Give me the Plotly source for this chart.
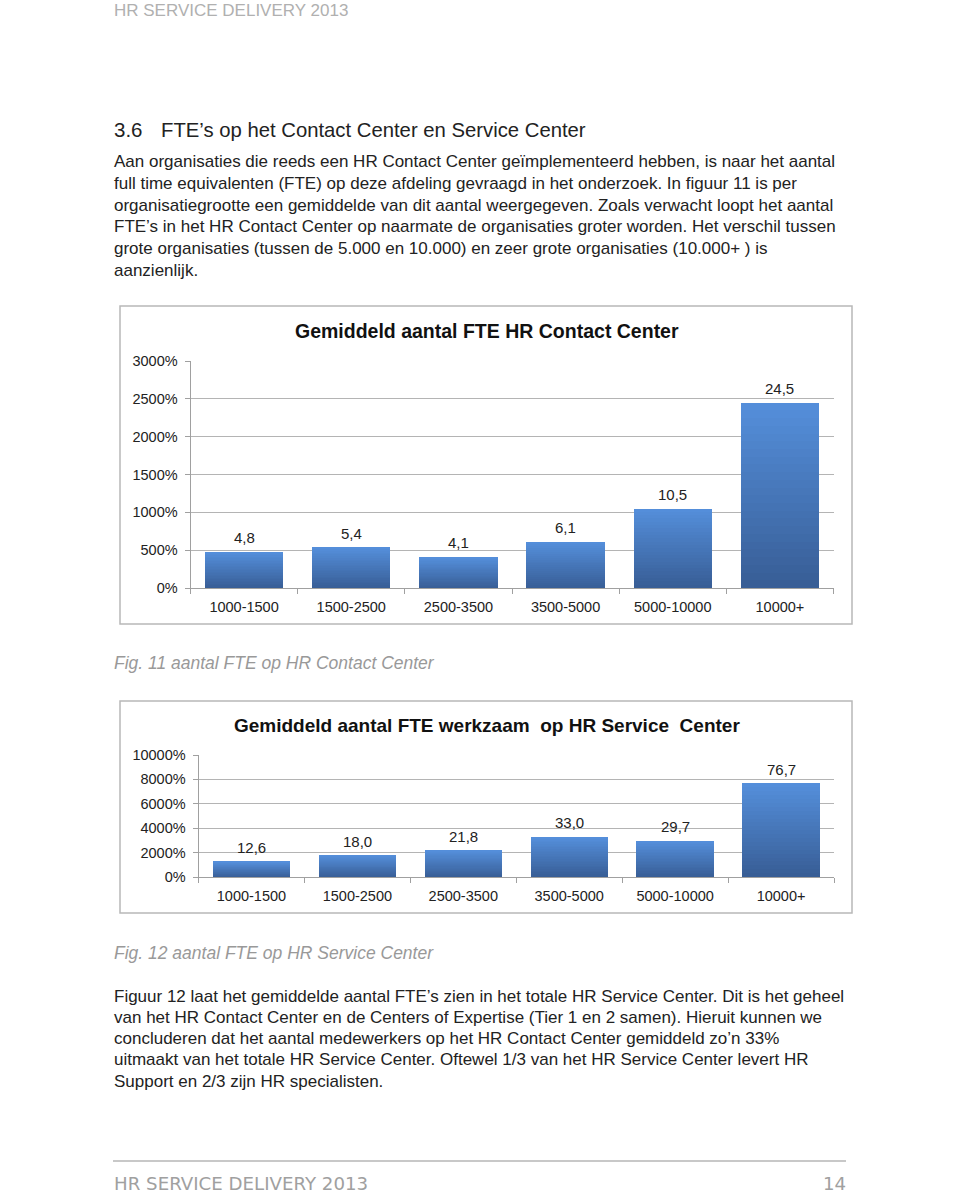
import plotly.graph_objects as go

W, H = 960, 1195

# ---------------- data ----------------
categories = ["1000-1500", "1500-2500", "2500-3500", "3500-5000", "5000-10000", "10000+"]
contact_center_fte = [4.8, 5.4, 4.1, 6.1, 10.5, 24.5]
service_center_fte = [12.6, 18.0, 21.8, 33.0, 29.7, 76.7]

chart1_title = "Gemiddeld aantal FTE HR Contact Center"
chart2_title = "Gemiddeld aantal FTE werkzaam  op HR Service  Center"

header_text = "HR SERVICE DELIVERY 2013"
section_no = "3.6"
section_title = "FTE’s op het Contact Center en Service Center"
para1 = [
    "Aan organisaties die reeds een HR Contact Center geïmplementeerd hebben, is naar het aantal",
    "full time equivalenten (FTE) op deze afdeling gevraagd in het onderzoek. In figuur 11 is per",
    "organisatiegrootte een gemiddelde van dit aantal weergegeven. Zoals verwacht loopt het aantal",
    "FTE’s in het HR Contact Center op naarmate de organisaties groter worden. Het verschil tussen",
    "grote organisaties (tussen de 5.000 en 10.000) en zeer grote organisaties (10.000+ ) is",
    "aanzienlijk.",
]
caption1 = "Fig. 11 aantal FTE op HR Contact Center"
caption2 = "Fig. 12 aantal FTE op HR Service Center"
para2 = [
    "Figuur 12 laat het gemiddelde aantal FTE’s zien in het totale HR Service Center. Dit is het geheel",
    "van het HR Contact Center en de Centers of Expertise (Tier 1 en 2 samen). Hieruit kunnen we",
    "concluderen dat het aantal medewerkers op het HR Contact Center gemiddeld zo’n 33%",
    "uitmaakt van het totale HR Service Center. Oftewel 1/3 van het HR Service Center levert HR",
    "Support en 2/3 zijn HR specialisten.",
]
footer_text = "HR SERVICE DELIVERY 2013"
page_no = "14"

FONT = "Liberation Sans, Arial, Helvetica, sans-serif"


def px(x):
    return x / W


def py(y):
    return 1 - y / H


fig = go.Figure()

# gradient bars: stacked slices of each bar from dark (bottom) to light (top)
N_SEG = 24
dark = (56, 94, 150)
light = (84, 142, 218)


def seg_color(i):
    t = i / (N_SEG - 1)
    c = [round(dark[k] + (light[k] - dark[k]) * t) for k in range(3)]
    return f"rgb({c[0]},{c[1]},{c[2]})"


ann = []

for xa, ya, vals in (("x", "y", contact_center_fte), ("x2", "y2", service_center_fte)):
    for i in range(N_SEG):
        fig.add_trace(go.Bar(
            x=categories, y=[v / N_SEG for v in vals],
            xaxis=xa, yaxis=ya,
            marker=dict(color=seg_color(i), line=dict(width=0)),
            showlegend=False, hoverinfo="skip",
        ))
    # value labels
    for c, v in zip(categories, vals):
        ann.append(dict(x=c, y=v, xref=xa, yref=ya, text=f"{v:.1f}".replace(".", ","),
                        showarrow=False, yanchor="middle", yshift=14,
                        font=dict(family=FONT, size=15, color="#222")))

axis_common = dict(
    showline=True, linecolor="#a0a0a0", linewidth=1,
    ticks="outside", ticklen=5, tickcolor="#a0a0a0",
    tickfont=dict(family=FONT, size=14.5, color="#222"),
    fixedrange=True,
)

fig.update_layout(
    width=W, height=H,
    margin=dict(l=0, r=0, t=0, b=0, autoexpand=False),
    paper_bgcolor="white", plot_bgcolor="white",
    barmode="stack", bargap=0.27,
    separators=",.",
    font=dict(family=FONT),
    xaxis=dict(domain=[px(190.5), px(833.5)], anchor="y", tickson="boundaries",
               ticklabelstandoff=6, **axis_common),
    yaxis=dict(domain=[py(588), py(361)], anchor="x", range=[0, 30], dtick=5,
               tickformat=".0%", showgrid=True, gridcolor="#b4b4b4", gridwidth=1,
               zeroline=False, ticklabelstandoff=4, **axis_common),
    xaxis2=dict(domain=[px(198.5), px(834)], anchor="y2", tickson="boundaries",
                ticklabelstandoff=6, **axis_common),
    yaxis2=dict(domain=[py(877), py(755)], anchor="x2", range=[0, 100], dtick=20,
                tickformat=".0%", showgrid=True, gridcolor="#b4b4b4", gridwidth=1,
                zeroline=False, ticklabelstandoff=4, **axis_common),
)

shapes = [
    # chart frames
    dict(type="rect", xref="paper", yref="paper", x0=px(120), x1=px(852), y0=py(624), y1=py(306),
         line=dict(color="#b8b8b8", width=1.5), fillcolor="rgba(0,0,0,0)", layer="below"),
    dict(type="rect", xref="paper", yref="paper", x0=px(120), x1=px(852), y0=py(913), y1=py(701),
         line=dict(color="#b8b8b8", width=1.5), fillcolor="rgba(0,0,0,0)", layer="below"),
    # footer rule
    dict(type="line", xref="paper", yref="paper", x0=px(113), x1=px(846), y0=py(1161), y1=py(1161),
         line=dict(color="#c8c8c8", width=2)),
]
fig.update_layout(shapes=shapes)


def text(x, y, s, size, color="#222", family=FONT, xanchor="left", yanchor="middle",
         bold=False, italic=False):
    if bold:
        s = f"<b>{s}</b>"
    if italic:
        s = f"<i>{s}</i>"
    ann.append(dict(x=px(x), y=py(y), xref="paper", yref="paper", text=s, showarrow=False,
                    xanchor=xanchor, yanchor=yanchor, borderpad=0,
                    font=dict(family=family, size=size, color=color)))


text(113, 0, header_text, 17, color="#b0b0b0", yanchor="top")
text(113, 130, section_no, 20.5, color="#222")
text(160, 130, section_title, 20.3, color="#222")
for i, line in enumerate(para1):
    text(113, 162 + i * 21.6, line, 17, color="#222")
text(487, 331, chart1_title, 19.5, color="#111", xanchor="center", bold=True)
text(113, 663, caption1, 17.5, color="#999999", italic=True)
text(487, 725, chart2_title, 19, color="#111", xanchor="center", bold=True)
text(113, 953, caption2, 17.5, color="#999999", italic=True)
for i, line in enumerate(para2):
    text(113, 996 + i * 21.3, line, 17, color="#222")
text(113, 1195, footer_text, 18.2, color="#a0a0a0", family="DejaVu Sans, Verdana, sans-serif",
     yanchor="bottom")
text(847, 1195, page_no, 18.2, color="#a0a0a0", family="DejaVu Sans, Verdana, sans-serif",
     xanchor="right", yanchor="bottom")

fig.update_layout(annotations=ann)

fig.write_html("out.html", config={"displayModeBar": False})
